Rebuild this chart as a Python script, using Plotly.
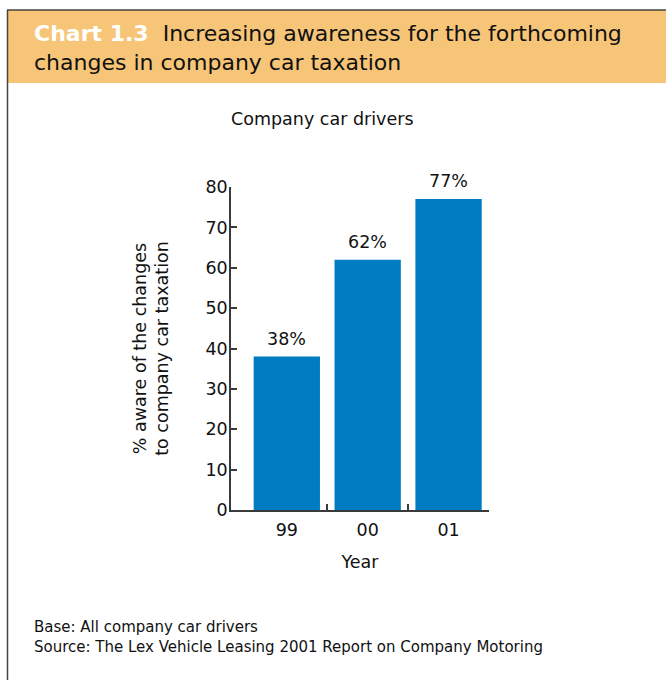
import plotly.graph_objects as go

# Survey results: company car drivers aware of the changes
years = ["99", "00", "01"]
aware_pct = [38, 62, 77]
y_ticks = [0, 10, 20, 30, 40, 50, 60, 70, 80]

W, H = 666, 680
L, R, T, B = 231, 489, 187, 510  # plot area in pixels


def px(x):
    return (x - L) / (R - L)


def py(y):
    return 1 - (y - T) / (B - T)


FONT = "DejaVu Sans, Verdana, sans-serif"
BAR = "#007CC2"
AXIS = "#3a3a3a"
TXT = "#111"
FS = 17.5

xpos = list(range(len(years)))

fig = go.Figure()
fig.add_trace(go.Bar(
    x=xpos, y=aware_pct, width=0.82,
    marker=dict(color=BAR, line=dict(width=0)),
    showlegend=False, hoverinfo="skip",
))
# invisible trace carrying the boundary ticks on the overlaid x axis
fig.add_trace(go.Scatter(x=[0.5], y=[0], xaxis="x2", mode="markers",
                         marker=dict(opacity=0), showlegend=False, hoverinfo="skip"))

# value labels above each bar
for xv, v in zip(xpos, aware_pct):
    fig.add_annotation(x=xv, y=v, xref="x", yref="y", text=f"{v}%", showarrow=False,
                       yanchor="bottom", yshift=6, font=dict(family=FONT, size=FS, color=TXT))

fig.update_layout(
    width=W, height=H,
    margin=dict(l=L, r=W - R, t=T, b=H - B, pad=0),
    paper_bgcolor="white", plot_bgcolor="white",
    font=dict(family=FONT, color=TXT),
    xaxis=dict(
        range=[-0.69, 2.5], tickvals=xpos, ticktext=years, ticks="",
        showline=True, linecolor=AXIS, linewidth=1.5, showgrid=False, zeroline=False,
        tickfont=dict(family=FONT, size=FS, color=TXT), ticklabelstandoff=3,
        title=dict(text="Year", font=dict(family=FONT, size=FS, color=TXT), standoff=17),
        fixedrange=True,
    ),
    xaxis2=dict(
        range=[-0.69, 2.5], overlaying="x", side="bottom", anchor="y",
        tickvals=[0.5, 1.5, 2.5], ticks="inside", ticklen=6, tickcolor=AXIS, tickwidth=1.5,
        showticklabels=False, showgrid=False, zeroline=False, showline=False,
    ),
    yaxis=dict(
        range=[0, 80], tickvals=y_ticks, ticks="inside", ticklen=6, tickcolor=AXIS, tickwidth=1.5,
        showline=True, linecolor=AXIS, linewidth=1.5, showgrid=False, zeroline=False,
        tickfont=dict(family=FONT, size=FS, color=TXT), ticklabelstandoff=-2,
        title=dict(text="% aware of the changes<br>to company car taxation",
                   font=dict(family=FONT, size=FS, color=TXT), standoff=32),
        fixedrange=True,
    ),
)

# header band and frame
fig.add_shape(type="rect", xref="paper", yref="paper",
              x0=px(7), x1=px(W + 2), y0=py(83), y1=py(10),
              fillcolor="#F7C577", line=dict(width=0), layer="below")
fig.add_shape(type="line", xref="paper", yref="paper",
              x0=px(7), x1=px(W + 2), y0=py(10), y1=py(10),
              line=dict(color="#444", width=1.5))
fig.add_shape(type="line", xref="paper", yref="paper",
              x0=px(7.5), x1=px(7.5), y0=py(10), y1=py(H + 2),
              line=dict(color="#444", width=1.5))

fig.add_annotation(
    xref="paper", yref="paper", x=px(32), y=py(19), xanchor="left", yanchor="top",
    text="<b><span style='color:white'>Chart 1.3</span></b>  Increasing awareness for the forthcoming<br>changes in company car taxation",
    showarrow=False, align="left", font=dict(family=FONT, size=22, color=TXT),
)
fig.add_annotation(
    xref="paper", yref="paper", x=px(322), y=py(119), xanchor="center", yanchor="middle",
    text="Company car drivers", showarrow=False, font=dict(family=FONT, size=FS, color=TXT),
)
fig.add_annotation(
    xref="paper", yref="paper", x=px(32), y=py(616), xanchor="left", yanchor="top",
    text="Base: All company car drivers<br>Source: The Lex Vehicle Leasing 2001 Report on Company Motoring",
    showarrow=False, align="left", font=dict(family=FONT, size=15, color=TXT),
)

fig.write_html("out.html")
